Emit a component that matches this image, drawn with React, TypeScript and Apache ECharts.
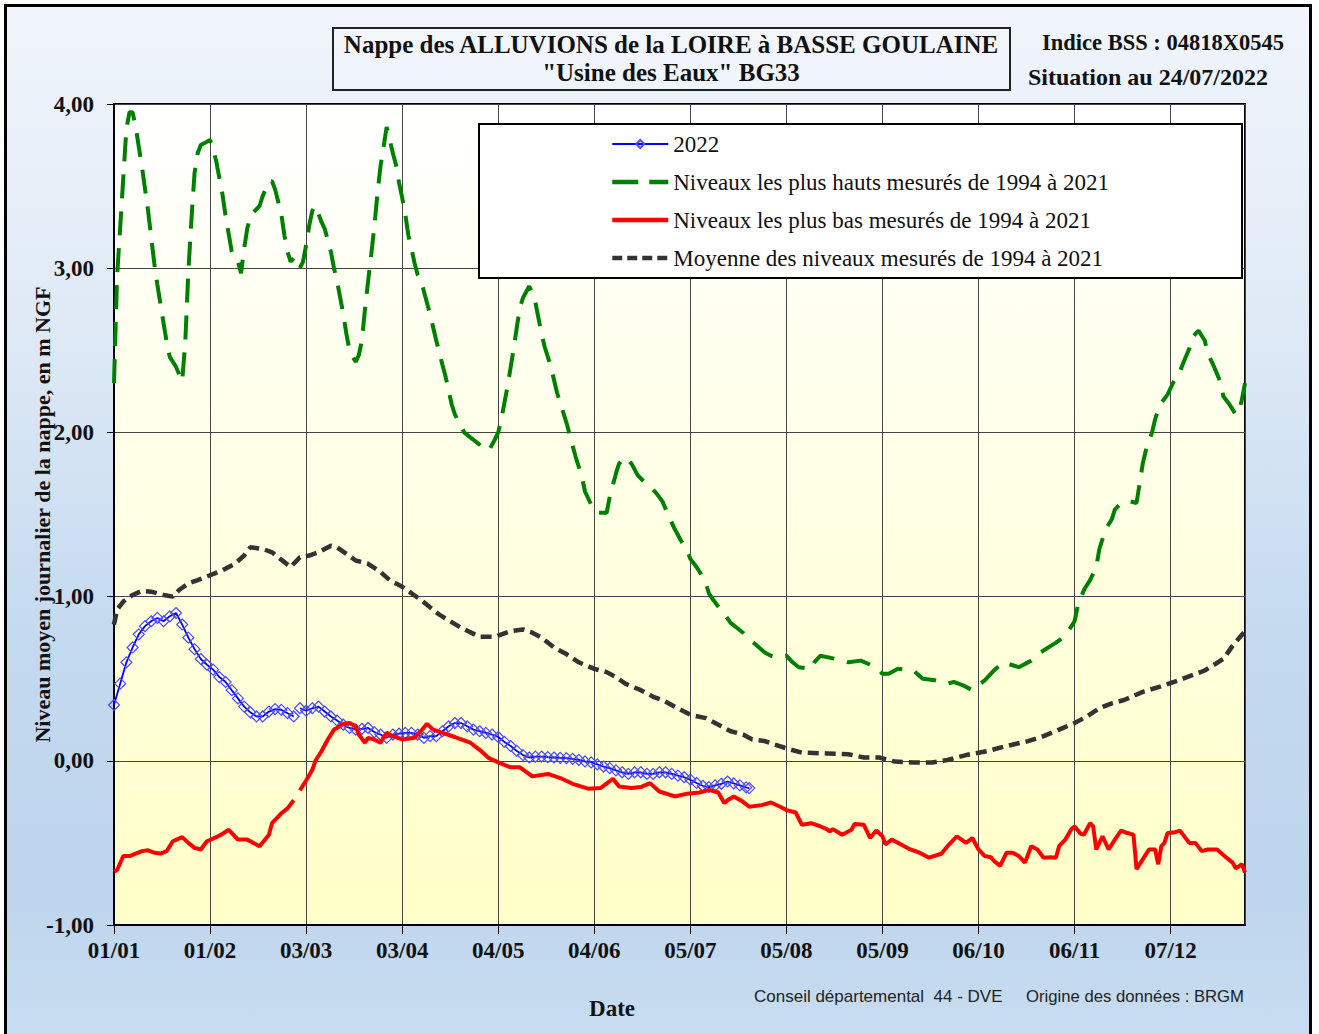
import React, { useEffect, useRef } from "react";
import * as echarts from "echarts";

// ---- Axis ticks (day index within a leap reference year, 0 = 1 January) ----
const xTickDays = [0, 31, 62, 93, 124, 155, 186, 217, 248, 279, 310, 341];
const xTickLabels = ["01/01", "01/02", "03/03", "03/04", "04/05", "04/06", "05/07", "05/08", "05/09", "06/10", "06/11", "07/12"];

// ---- 2022 (daily level, m NGF) ----
const y2022Days = [0, 2, 4, 6, 8, 10, 12, 14, 16, 18, 20, 22, 24, 26, 28, 30, 32, 34, 36, 38, 40, 42, 44, 46, 48, 50, 52, 54, 56, 58, 59, 60, 62, 64, 66, 68, 70, 72, 74, 76, 78, 80, 82, 84, 86, 88, 90, 92, 94, 96, 98, 100, 102, 104, 106, 108, 110, 112, 114, 116, 118, 120, 122, 124, 126, 128, 130, 132, 134, 136, 138, 140, 142, 144, 146, 148, 150, 152, 154, 156, 158, 160, 162, 164, 166, 168, 170, 172, 174, 176, 178, 180, 182, 184, 186, 188, 190, 192, 194, 196, 198, 200, 202, 204, 205];
const y2022Values = [0.34, 0.47, 0.6, 0.69, 0.77, 0.82, 0.85, 0.87, 0.85, 0.88, 0.9, 0.83, 0.75, 0.68, 0.62, 0.585, 0.555, 0.51, 0.48, 0.43, 0.38, 0.33, 0.295, 0.27, 0.27, 0.3, 0.315, 0.31, 0.29, 0.27, null, 0.32, 0.305, 0.32, 0.33, 0.3, 0.27, 0.245, 0.22, 0.2, 0.19, 0.195, 0.2, 0.175, 0.16, 0.14, 0.16, 0.165, 0.17, 0.17, 0.16, 0.14, 0.15, 0.15, 0.18, 0.21, 0.23, 0.23, 0.21, 0.19, 0.18, 0.17, 0.16, 0.145, 0.115, 0.09, 0.06, 0.035, 0.02, 0.025, 0.026, 0.022, 0.02, 0.018, 0.016, 0.012, 0.006, -0.004, -0.01, -0.022, -0.035, -0.045, -0.058, -0.07, -0.08, -0.07, -0.07, -0.08, -0.08, -0.07, -0.07, -0.08, -0.09, -0.1, -0.115, -0.135, -0.152, -0.16, -0.15, -0.14, -0.126, -0.138, -0.15, -0.162, -0.166];

// ---- Highest levels 1994-2021 ----
const highDays = [0, 1, 2, 3, 4, 5, 6, 7, 9, 11, 13, 14, 15, 17, 18, 20, 22, 23, 24, 25, 26, 27, 28, 30, 31, 32, 33, 35, 36, 38, 39, 40, 41, 42, 43, 44, 46, 47, 48, 50, 51, 52, 54, 55, 56, 57, 58, 59, 60, 61, 62, 63, 64, 65, 66, 67, 68, 70, 71, 72, 74, 75, 76, 77, 78, 79, 80, 81, 82, 83, 84, 85, 86, 87, 88, 89, 90, 91, 92, 93, 94, 95, 96, 97, 98, 99, 100, 102, 104, 106, 107, 109, 110, 112, 113, 115, 117, 119, 121, 123, 124, 125, 127, 129, 130, 131, 132, 134, 135, 136, 138, 139, 141, 143, 145, 146, 148, 149, 151, 152, 154, 155, 156, 159, 160, 162, 163, 165, 167, 169, 171, 173, 175, 177, 179, 181, 183, 185, 186, 188, 190, 191, 192, 193, 195, 196, 199, 201, 203, 205, 207, 210, 212, 214, 217, 219, 221, 225, 226, 228, 233, 237, 241, 246, 248, 250, 253, 258, 261, 265, 269, 271, 274, 277, 281, 284, 287, 292, 296, 299, 304, 307, 310, 311, 313, 315, 317, 318, 320, 322, 323, 325, 328, 330, 331, 332, 333, 335, 336, 337, 338, 340, 342, 344, 345, 347, 348, 350, 352, 353, 355, 357, 358, 360, 362, 363, 364, 365];
const highValues = [2.3, 2.95, 3.25, 3.55, 3.85, 3.95, 3.95, 3.86, 3.62, 3.35, 3.03, 2.9, 2.78, 2.55, 2.46, 2.4, 2.31, 2.55, 2.98, 3.3, 3.58, 3.7, 3.75, 3.77, 3.78, 3.73, 3.65, 3.45, 3.32, 3.1, 3.06, 3.04, 2.97, 3.12, 3.24, 3.32, 3.36, 3.38, 3.44, 3.53, 3.53, 3.48, 3.33, 3.2, 3.1, 3.04, 3.06, null, 3.0, 3.04, 3.14, 3.26, 3.35, 3.38, 3.33, 3.28, 3.24, 3.1, 3.0, 2.92, 2.72, 2.6, 2.5, 2.46, 2.43, 2.47, 2.56, 2.75, 2.92, 3.08, 3.25, 3.45, 3.62, 3.74, 3.86, 3.78, 3.7, 3.63, 3.52, 3.43, 3.33, 3.2, 3.12, 3.03, 2.96, 2.93, 2.86, 2.72, 2.56, 2.41, 2.34, 2.17, 2.11, 2.04, 2.0, 1.97, 1.94, 1.91, 1.89, 1.96, 2.0, 2.08, 2.28, 2.51, 2.64, 2.76, 2.82, 2.89, 2.85, 2.79, 2.6, 2.52, 2.4, 2.24, 2.12, 2.06, 1.92, 1.85, 1.73, 1.64, 1.56, 1.54, 1.51, 1.51, 1.61, 1.75, 1.81, 1.85, 1.81, 1.74, 1.7, 1.67, 1.63, 1.58, 1.49, 1.41, 1.34, 1.28, 1.23, 1.18, 1.12, 1.08, 1.02, 0.99, 0.94, 0.92, 0.84, 0.81, 0.78, 0.74, 0.71, 0.66, 0.64, 0.63, 0.64, 0.6, 0.57, 0.56, 0.6, 0.64, 0.62, 0.6, 0.61, 0.57, 0.53, 0.53, 0.56, 0.55, 0.5, 0.49, 0.47, 0.48, 0.46, 0.43, 0.49, 0.55, 0.6, 0.57, 0.61, 0.66, 0.72, 0.76, 0.85, 0.94, 1.04, 1.1, 1.18, 1.29, 1.41, 1.47, 1.53, 1.57, 1.58, 1.57, 1.69, 1.81, 1.89, 2.0, 2.08, 2.14, 2.18, 2.23, 2.31, 2.37, 2.42, 2.51, 2.58, 2.62, 2.56, 2.48, 2.4, 2.31, 2.22, 2.17, 2.11, 2.12, 2.2, 2.3];

// ---- Lowest levels 1994-2021 ----
const lowDays = [0, 1, 3, 5, 7, 9, 11, 13, 15, 17, 19, 22, 24, 26, 28, 30, 33, 35, 37, 40, 43, 45, 47, 50, 51, 54, 56, 58, 59, 60, 62, 64, 65, 67, 69, 71, 72, 74, 76, 78, 79, 81, 82, 84, 86, 88, 90, 93, 97, 99, 101, 103, 106, 110, 112, 115, 118, 121, 124, 128, 131, 135, 140, 144, 148, 153, 157, 161, 163, 167, 170, 173, 176, 181, 185, 189, 192, 195, 197, 198, 200, 203, 205, 209, 212, 215, 217, 220, 222, 225, 228, 230, 231, 232, 235, 238, 239, 242, 244, 246, 248, 249, 251, 254, 257, 260, 263, 267, 269, 272, 275, 277, 279, 281, 283, 284, 286, 288, 290, 292, 294, 296, 298, 300, 302, 304, 305, 307, 309, 310, 312, 313, 315, 316, 317, 319, 321, 323, 325, 327, 329, 330, 332, 334, 336, 337, 338, 339, 340, 342, 344, 347, 349, 351, 353, 356, 359, 361, 362, 364, 365];
const lowValues = [-0.675, -0.665, -0.58, -0.58, -0.565, -0.55, -0.545, -0.56, -0.565, -0.55, -0.49, -0.465, -0.5, -0.53, -0.54, -0.49, -0.465, -0.445, -0.42, -0.48, -0.48, -0.5, -0.52, -0.45, -0.38, -0.32, -0.29, -0.24, null, -0.18, -0.12, -0.055, 0.0, 0.06, 0.13, 0.19, 0.2, 0.225, 0.23, 0.21, 0.16, 0.11, 0.14, 0.13, 0.11, 0.17, 0.15, 0.13, 0.14, 0.18, 0.225, 0.19, 0.17, 0.145, 0.13, 0.11, 0.067, 0.016, -0.01, -0.04, -0.04, -0.095, -0.08, -0.105, -0.14, -0.17, -0.166, -0.11, -0.157, -0.166, -0.16, -0.136, -0.187, -0.217, -0.2, -0.193, -0.177, -0.193, -0.258, -0.24, -0.217, -0.25, -0.28, -0.27, -0.254, -0.28, -0.3, -0.315, -0.39, -0.38, -0.4, -0.416, -0.43, -0.416, -0.45, -0.42, -0.385, -0.39, -0.47, -0.425, -0.46, -0.51, -0.48, -0.51, -0.54, -0.56, -0.59, -0.566, -0.52, -0.46, -0.5, -0.47, -0.54, -0.58, -0.587, -0.61, -0.64, -0.56, -0.56, -0.58, -0.62, -0.52, -0.54, -0.59, -0.587, -0.59, -0.52, -0.48, -0.416, -0.4, -0.445, -0.45, -0.38, -0.4, -0.54, -0.46, -0.54, -0.48, -0.425, -0.44, -0.45, -0.66, -0.6, -0.54, -0.54, -0.63, -0.52, -0.5, -0.44, -0.437, -0.425, -0.5, -0.5, -0.55, -0.54, -0.54, -0.59, -0.62, -0.655, -0.63, -0.68];

// ---- Mean levels 1994-2021 ----
const meanDays = [0, 1, 3, 6, 9, 12, 16, 19, 21, 24, 27, 31, 35, 39, 42, 44, 48, 51, 55, 57, 60, 63, 66, 70, 72, 75, 78, 82, 86, 89, 93, 99, 105, 112, 118, 123, 128, 132, 135, 138, 142, 146, 150, 155, 159, 162, 165, 170, 174, 177, 182, 186, 191, 196, 199, 203, 206, 210, 213, 218, 222, 230, 237, 242, 247, 252, 258, 264, 269, 275, 282, 288, 295, 300, 305, 310, 314, 318, 322, 326, 332, 339, 345, 352, 358, 361, 365];
const meanValues = [0.83, 0.92, 0.97, 1.01, 1.035, 1.03, 1.01, 1.0, 1.04, 1.08, 1.1, 1.13, 1.16, 1.2, 1.25, 1.3, 1.29, 1.27, 1.21, 1.18, 1.24, 1.25, 1.27, 1.31, 1.3, 1.26, 1.22, 1.2, 1.15, 1.1, 1.06, 0.98, 0.89, 0.81, 0.755, 0.755, 0.79, 0.8, 0.78, 0.75, 0.69, 0.65, 0.6, 0.56, 0.54, 0.51, 0.47, 0.43, 0.39, 0.37, 0.32, 0.28, 0.26, 0.21, 0.18, 0.16, 0.13, 0.12, 0.1, 0.07, 0.05, 0.045, 0.04, 0.02, 0.02, -0.005, -0.01, -0.01, 0.005, 0.035, 0.06, 0.09, 0.12, 0.15, 0.19, 0.23, 0.27, 0.32, 0.35, 0.37, 0.42, 0.46, 0.5, 0.55, 0.62, 0.7, 0.79];

const seriesNames = [
  "2022",
  "Niveaux les plus hauts mesurés de 1994 à 2021",
  "Niveaux les plus bas mesurés de 1994 à 2021",
  "Moyenne des niveaux mesurés de 1994 à 2021",
];

const SERIF = "'Liberation Serif', 'Times New Roman', serif";
const SANS = "'Liberation Sans', Arial, sans-serif";

function pairs(days: number[], values: (number | null)[]) {
  return days.map((d, i) => [d, values[i] === null ? "-" : values[i]]);
}

function textEl(text: string, x: number, y: number, font: string, align: string, color = "#111") {
  return {
    type: "text",
    x,
    y,
    z: 20,
    silent: true,
    style: {
      text,
      font,
      fill: color,
      align,
      textAlign: align,
      verticalAlign: "middle",
      textVerticalAlign: "middle",
    },
  };
}

export default function App() {
  const ref = useRef<HTMLDivElement>(null);

  useEffect(() => {
    if (!ref.current) return;
    const chart = echarts.init(ref.current, undefined, { renderer: "svg" });
    const gridLine = { show: true, lineStyle: { color: "#444444", width: 1 } };
    const option: any = {
      animation: false,
      backgroundColor: "transparent",
      grid: {
        left: 114,
        top: 104,
        width: 1131,
        height: 821,
        show: true,
        borderColor: "#000",
        borderWidth: 2,
        backgroundColor: new echarts.graphic.LinearGradient(0, 0, 0, 1, [
          { offset: 0, color: "#ffffff" },
          { offset: 1, color: "#ffffc8" },
        ]),
      },
      xAxis: {
        type: "value",
        min: 0,
        max: 365,
        interval: 31,
        axisLine: { show: true, onZero: false, lineStyle: { color: "#000", width: 2 } },
        axisTick: { show: true, inside: false, length: 9, lineStyle: { color: "#000", width: 1 } },
        axisLabel: {
          margin: 14,
          color: "#111",
          fontFamily: SERIF,
          fontWeight: "bold",
          fontSize: 23,
          showMaxLabel: false,
          formatter: (v: number) => {
            const i = xTickDays.indexOf(v);
            return i >= 0 ? xTickLabels[i] : "";
          },
        },
        splitLine: gridLine,
      },
      yAxis: {
        type: "value",
        min: -1,
        max: 4,
        interval: 1,
        name: "Niveau moyen journalier de la nappe, en m NGF",
        nameLocation: "middle",
        nameGap: 61,
        nameMoveOverlap: false,
        nameTextStyle: { fontFamily: SERIF, fontWeight: "bold", fontSize: 22, color: "#111" },
        axisLine: { show: true, onZero: false, lineStyle: { color: "#000", width: 2 } },
        axisTick: { show: true, inside: false, length: 7, lineStyle: { color: "#000", width: 1 } },
        axisLabel: {
          margin: 20,
          color: "#111",
          fontFamily: SERIF,
          fontWeight: "bold",
          fontSize: 23,
          formatter: (v: number) => v.toFixed(2).replace(".", ","),
        },
        splitLine: gridLine,
      },
      legend: {
        orient: "vertical",
        left: 610,
        top: 132,
        padding: 0,
        itemWidth: 56,
        itemHeight: 10,
        itemGap: 14,
        z: 10,
        selectedMode: false,
        data: [
          { name: seriesNames[0], lineStyle: { width: 2 } },
          { name: seriesNames[1], itemStyle: { opacity: 0 }, lineStyle: { width: 4.5, type: [26, 11] } },
          { name: seriesNames[2], itemStyle: { opacity: 0 }, lineStyle: { width: 4.5 } },
          { name: seriesNames[3], itemStyle: { opacity: 0 }, lineStyle: { width: 4.5, type: [10, 5] } },
        ],
        textStyle: { fontFamily: SERIF, fontSize: 23, color: "#111", lineHeight: 24 },
      },
      series: [
        {
          name: seriesNames[0],
          type: "line",
          data: pairs(y2022Days, y2022Values),
          symbol: "diamond",
          symbolSize: 11,
          showSymbol: true,
          lineStyle: { color: "#0000ff", width: 1.8 },
          itemStyle: { color: "rgba(255,255,255,0)", borderColor: "#4a4aff", borderWidth: 1.2 },
          emphasis: { disabled: true },
          z: 2,
        },
        {
          name: seriesNames[1],
          type: "line",
          data: pairs(highDays, highValues),
          symbol: "none",
          lineStyle: { color: "#008000", width: 4, type: [24, 13] },
          itemStyle: { color: "#008000" },
          emphasis: { disabled: true },
          z: 3,
        },
        {
          name: seriesNames[2],
          type: "line",
          data: pairs(lowDays, lowValues),
          symbol: "none",
          lineStyle: { color: "#ff0000", width: 4 },
          itemStyle: { color: "#ff0000" },
          emphasis: { disabled: true },
          z: 4,
        },
        {
          name: seriesNames[3],
          type: "line",
          data: pairs(meanDays, meanValues),
          symbol: "none",
          lineStyle: { color: "#333333", width: 4.5, type: [11, 6] },
          itemStyle: { color: "#333333" },
          emphasis: { disabled: true },
          z: 4,
        },
      ],
      graphic: [
        {
          type: "rect",
          z: 6,
          silent: true,
          shape: { x: 479, y: 124, width: 763, height: 154 },
          style: { fill: "#ffffff", stroke: "#000", lineWidth: 2 },
        },
        {
          type: "rect",
          z: 6,
          silent: true,
          shape: { x: 333, y: 28, width: 677, height: 62 },
          style: { fill: "rgba(255,255,255,0.2)", stroke: "#222", lineWidth: 2 },
        },
        textEl("Nappe des ALLUVIONS de la LOIRE à BASSE GOULAINE", 671, 44, `bold 25px ${SERIF}`, "center"),
        textEl('"Usine des Eaux" BG33', 671, 72, `bold 25px ${SERIF}`, "center"),
        textEl("Indice BSS : 04818X0545", 1163, 42, `bold 22.5px ${SERIF}`, "center"),
        textEl("Situation au 24/07/2022", 1148, 77, `bold 24px ${SERIF}`, "center"),
        textEl("Date", 612, 1008, `bold 23px ${SERIF}`, "center"),
        textEl("Conseil départemental  44 - DVE", 754, 996, `17px ${SANS}`, "left", "#222"),
        textEl("Origine des données : BRGM", 1026, 996, `16.7px ${SANS}`, "left", "#222"),
      ],
    };
    chart.setOption(option);
    return () => chart.dispose();
  }, []);

  return (
    <div style={{ position: "fixed", left: 0, top: 0, width: 1319, height: 1034, background: "#ffffff", overflow: "hidden" }}>
      <div
        style={{
          position: "absolute",
          left: 4,
          top: 4,
          width: 1308,
          height: 1045,
          boxSizing: "border-box",
          border: "3px solid #000",
          background: "linear-gradient(180deg, #f1f5fb 0%, #dfeaf6 30%, #c3d9ef 62%, #bdd5ed 85%, #c9ddf1 100%)",
        }}
      />
      <div ref={ref} style={{ position: "absolute", left: 0, top: 0, width: 1319, height: 1034 }} />
    </div>
  );
}
